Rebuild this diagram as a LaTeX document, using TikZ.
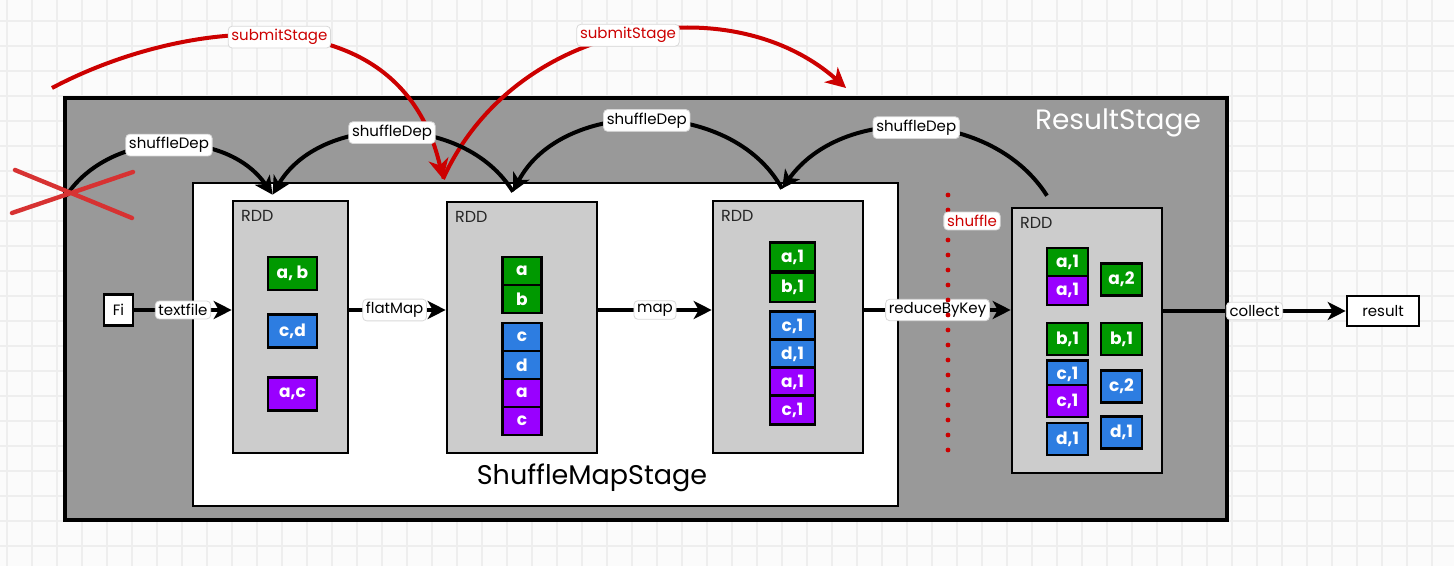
\documentclass[tikz,border=0pt]{standalone}
\usepackage{fontspec}
\setmainfont{Poppins}
\usetikzlibrary{arrows.meta,positioning}

\definecolor{paper}{RGB}{251,251,251}
\definecolor{gridgray}{RGB}{238,238,238}
\definecolor{stagegray}{RGB}{153,153,153}
\definecolor{rddgray}{RGB}{204,204,204}
\definecolor{cellgreen}{RGB}{0,153,0}
\definecolor{cellblue}{RGB}{45,125,225}
\definecolor{cellpurple}{RGB}{153,0,255}
\definecolor{submitred}{RGB}{204,0,0}
\definecolor{crossred}{RGB}{215,50,50}

\newcommand{\tagfont}{\fontsize{7.5pt}{9pt}\selectfont}
\newcommand{\cellfont}{\bfseries\fontsize{8.5pt}{9pt}\selectfont}

\begin{document}
\begin{tikzpicture}[x=0.5pt,y=-0.5pt,
    gridline/.style={draw=gridgray,line width=0.9pt},
    stagebox/.style={draw=black,line width=1.8pt,inner sep=0pt},
    rddbox/.style={draw=black,line width=1.3pt,fill=rddgray,inner sep=0pt},
    rddname/.style={anchor=north west,inner sep=0pt,text=black!85,font=\fontsize{8pt}{9pt}\selectfont},
    cell/.style={draw=black,line width=1.1pt,text=white,inner sep=0pt,font=\cellfont},
    flow/.style={line width=2pt,-{Stealth[length=9pt,width=9pt,inset=2.5pt]}},
    dep/.style={line width=2pt,-{Stealth[length=9pt,width=9pt,inset=2.5pt]}},
    submit/.style={draw=submitred,line width=2pt,-{Stealth[length=10pt,width=10pt,inset=3pt]}},
    tag/.style={fill=white,draw=gray!30,line width=0.4pt,rounded corners=2pt,inner sep=1.6pt,text=black,font=\tagfont},
    redtag/.style={tag,text=submitred},
    iobox/.style={draw=black,line width=1.3pt,fill=white,inner sep=0pt,font=\tagfont}
  ]
  \useasboundingbox (0,0) rectangle (1454,566);

  % grid paper
  \fill[paper] (0,0) rectangle (1454,566);
  \foreach \gx in {7,32,...,1454} \draw[gridline] (\gx,0) -- (\gx,566);
  \foreach \gy in {21,46,...,566} \draw[gridline] (0,\gy) -- (1454,\gy);

  % stages
  \node[stagebox,fill=stagegray,minimum width=581pt,minimum height=211pt] (resultstage) at (646,309) {};
  \node[text=white,font=\fontsize{14pt}{16pt}\selectfont] (resultname) at (1118,123) {ResultStage};
  \node[stagebox,line width=1.4pt,fill=white,minimum width=352.5pt,minimum height=161.5pt] (mapstage) at (545.5,344.5) {};
  \node[font=\fontsize{13.5pt}{15pt}\selectfont] (mapname) at (592,478) {ShuffleMapStage};

  % RDDs
  \node[rddbox,minimum width=57.5pt,minimum height=126pt] (rdd1) at (290.5,327) {};
  \node[rddbox,minimum width=75pt,minimum height=125.5pt] (rdd2) at (522,327.5) {};
  \node[rddbox,minimum width=75pt,minimum height=126pt] (rdd3) at (788,327) {};
  \node[rddbox,minimum width=75pt,minimum height=132.5pt] (rdd4) at (1087,340.5) {};
  \foreach \r in {1,2,3,4}
    \node[rddname] (rddname\r) at ([shift={(9,10)}]rdd\r.north west) {RDD};

  % partitions
  \foreach \cy/\ct/\cc [count=\i] in {273.5/{a, b}/cellgreen, 331/{c,d}/cellblue, 394/{a,c}/cellpurple}
    \node[cell,fill=\cc,minimum width=24.5pt,minimum height=16.5pt] (ra\i) at (292.5,\cy) {\ct};
  \foreach \cy/\ct/\cc [count=\i] in {271/a/cellgreen, 299/b/cellgreen, 337/c/cellblue, 365/d/cellblue, 393/a/cellpurple, 421/c/cellpurple}
    \node[cell,fill=\cc,minimum width=19.5pt,minimum height=14pt] (rb\i) at (522,\cy) {\ct};
  \foreach \cy/\ct/\cc [count=\i] in {257/{a,1}/cellgreen, 287.5/{b,1}/cellgreen, 326/{c,1}/cellblue, 354/{d,1}/cellblue, 382/{a,1}/cellpurple, 410/{c,1}/cellpurple}
    \node[cell,fill=\cc,minimum width=22.5pt,minimum height=14.5pt] (rc\i) at (792.5,\cy) {\ct};
  \foreach \cx/\cy/\ch/\ct/\cc [count=\i] in {1067.5/262/14/{a,1}/cellgreen, 1067.5/290.5/14.5/{a,1}/cellpurple,
      1067.5/339/16/{b,1}/cellgreen, 1067.5/374/13.5/{c,1}/cellblue, 1067.5/401/16/{c,1}/cellpurple,
      1067.5/439/16/{d,1}/cellblue, 1121.5/279.5/16/{a,2}/cellgreen, 1121.5/339/16/{b,1}/cellgreen,
      1121.5/386.5/16/{c,2}/cellblue, 1121.5/432.5/16/{d,1}/cellblue}
    \node[cell,fill=\cc,minimum width=20.5pt,minimum height=\ch pt] (rd\i) at (\cx,\cy) {\ct};

  % input and output
  \node[iobox,minimum width=14.5pt,minimum height=15.5pt] (fi) at (118.5,310) {Fi};
  \node[iobox,minimum width=36pt,minimum height=15pt] (result) at (1383,311) {result};

  % transformations
  \draw[flow] (fi) -- node[tag]{textfile} (fi -| rdd1.west);
  \draw[flow] (rdd1.east |- fi) -- node[tag,pos=0.47]{flatMap} (rdd2.west |- fi);
  \draw[flow] (rdd2.east |- fi) -- node[tag]{map} (rdd3.west |- fi);
  \draw[flow] (rdd3.east |- fi) -- node[tag]{reduceByKey} (rdd4.west |- fi);
  \draw[flow] (rdd4.east |- result) -- node[tag]{collect} (result);

  % shuffle boundary
  \draw[submitred,line width=2.4pt,line cap=round,dash pattern=on 0pt off 7.5pt] (948,195) -- (948,460);
  \node[redtag] (shufflename) at (972,221) {shuffle};

  % submitStage
  \coordinate (submitfrom) at (52,88);
  \coordinate (stagetop) at (443,179);
  \coordinate (submitto) at (846,88);
  \draw[submit] (submitfrom) .. controls (180,20) and (400,-10) .. node[redtag]{submitStage} (stagetop);
  \draw[submit] (stagetop) .. controls (515,20) and (730,-15) .. node[redtag]{submitStage} (submitto);

  % shuffle dependencies
  \coordinate (lostdep) at (66,196);
  \draw[dep] (lostdep) to[bend left=56] node[tag]{shuffleDep} ([xshift=-9pt,yshift=2.5pt]rdd1.north);
  \draw[dep] ([xshift=-4.5pt,yshift=4.5pt]rdd2.north) to[bend right=59] node[tag]{shuffleDep} ([xshift=-9pt,yshift=2.5pt]rdd1.north);
  \draw[dep] ([xshift=-3pt,yshift=5.5pt]rdd3.north) to[bend right=62] node[tag]{shuffleDep} ([xshift=-4.5pt,yshift=4.5pt]rdd2.north);
  \draw[dep] ([xshift=-20pt,yshift=5.5pt]rdd4.north) to[bend right=56] node[tag]{shuffleDep} ([xshift=-3pt,yshift=5.5pt]rdd3.north);

  % crossed out
  \draw[crossred,line width=2.2pt,line cap=round] (15,170) -- (132,218) (12,213) -- (133,172);
\end{tikzpicture}
\end{document}
